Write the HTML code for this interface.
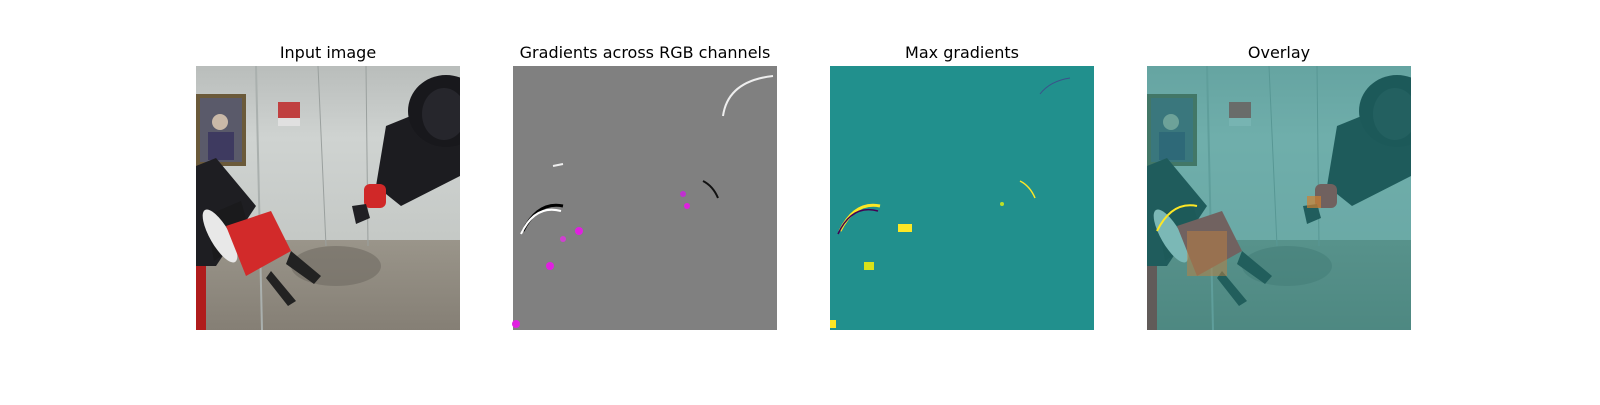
<!DOCTYPE html>
<html><head><meta charset="utf-8"><style>
body{margin:0;background:#fff;width:1600px;height:400px;overflow:hidden}
svg text{font-family:"DejaVu Sans","Liberation Sans",sans-serif;font-size:16px;fill:#000}
</style></head><body>
<svg width="1600" height="400" viewBox="0 0 1600 400">
<defs>
<linearGradient id="wall" x1="0" y1="0" x2="0" y2="1"><stop offset="0" stop-color="#b9bdbb"/><stop offset="0.4" stop-color="#cfd3d1"/><stop offset="1" stop-color="#c4c8c5"/></linearGradient>
<linearGradient id="floor" x1="0" y1="0" x2="0" y2="1"><stop offset="0" stop-color="#9a958a"/><stop offset="1" stop-color="#857f75"/></linearGradient>
<clipPath id="clip"><rect x="0" y="0" width="264" height="264"/></clipPath>
<g id="scene" clip-path="url(#clip)">
<rect x="0" y="0" width="264" height="180" fill="url(#wall)"/>
<rect x="0" y="174" width="264" height="90" fill="url(#floor)"/>
<rect x="0" y="28" width="50" height="72" fill="#6b5a3a"/>
<rect x="4" y="32" width="42" height="64" fill="#5a5a6a"/>
<rect x="12" y="66" width="26" height="28" fill="#3e3a60"/>
<circle cx="24" cy="56" r="8" fill="#cab9a8"/>
<rect x="82" y="36" width="22" height="16" fill="#c04040"/>
<rect x="82" y="52" width="22" height="8" fill="#e0e0e0"/>
<line x1="60" y1="0" x2="66" y2="264" stroke="#aab0ae" stroke-width="2"/>
<line x1="122" y1="0" x2="130" y2="180" stroke="#9aa09e" stroke-width="1"/>
<line x1="170" y1="0" x2="172" y2="180" stroke="#9aa09e" stroke-width="1"/>
<ellipse cx="140" cy="200" rx="45" ry="20" fill="#6f6b63" opacity="0.6"/>
<path d="M190 60 L264 30 L264 110 L205 140 L180 120 Z" fill="#1c1c20"/>
<ellipse cx="250" cy="45" rx="38" ry="36" fill="#18181c"/>
<ellipse cx="248" cy="48" rx="22" ry="26" fill="#26262c"/>
<rect x="168" y="118" width="22" height="24" rx="6" fill="#d02828"/>
<path d="M156 140 L170 138 L174 152 L160 158 Z" fill="#202024"/>
<path d="M0 100 L20 92 L60 140 L20 200 L0 200 Z" fill="#1e1e22"/>
<path d="M10 150 L45 135 L55 170 L18 195 Z" fill="#1a1a1c"/>
<ellipse cx="24" cy="170" rx="10" ry="30" fill="#e8e8e8" transform="rotate(-30 24 170)"/>
<path d="M30 160 L75 145 L95 185 L50 210 Z" fill="#d22a2a"/>
<path d="M95 185 L125 210 L118 218 L90 198 Z" fill="#222"/>
<path d="M75 205 L100 235 L92 240 L70 212 Z" fill="#222"/>
<rect x="0" y="200" width="10" height="64" fill="#b01c1c"/>
</g>
</defs>

<text x="328" y="58" text-anchor="middle">Input image</text>
<text x="645" y="58" text-anchor="middle">Gradients across RGB channels</text>
<text x="962" y="58" text-anchor="middle">Max gradients</text>
<text x="1279" y="58" text-anchor="middle">Overlay</text>

<g transform="translate(196,66)"><use href="#scene"/></g>

<g transform="translate(513,66)">
<rect width="264" height="264" fill="#808080"/>
<path d="M210 50 Q215 15 260 10" stroke="#eee" stroke-width="2" fill="none"/>
<path d="M10 165 Q25 135 50 140" stroke="#000" stroke-width="3" fill="none"/>
<path d="M8 168 Q22 138 48 145" stroke="#fff" stroke-width="2" fill="none"/>
<path d="M190 115 Q200 120 205 132" stroke="#111" stroke-width="2" fill="none"/>
<circle cx="66" cy="165" r="4" fill="#e020e0"/>
<circle cx="50" cy="173" r="3" fill="#d040d0"/>
<circle cx="37" cy="200" r="4" fill="#e020e0"/>
<circle cx="170" cy="128" r="3" fill="#c030d0"/>
<circle cx="174" cy="140" r="3" fill="#e020e0"/>
<circle cx="3" cy="258" r="4" fill="#e020e0"/>
<path d="M40 100 L50 98" stroke="#eee" stroke-width="2"/>
</g>

<g transform="translate(830,66)">
<rect width="264" height="264" fill="#21908d"/>
<path d="M10 165 Q25 135 50 140" stroke="#fde725" stroke-width="3" fill="none"/>
<path d="M8 168 Q22 138 48 145" stroke="#440154" stroke-width="1.5" fill="none"/>
<rect x="68" y="158" width="14" height="8" fill="#fde725"/>
<rect x="34" y="196" width="10" height="8" fill="#d8e219"/>
<circle cx="172" cy="138" r="2" fill="#bddf26"/>
<rect x="0" y="254" width="6" height="8" fill="#fde725"/>
<path d="M190 115 Q200 120 205 132" stroke="#fde725" stroke-width="1.5" fill="none"/>
<path d="M210 28 Q220 15 240 12" stroke="#3b528b" stroke-width="1" fill="none"/>
</g>

<g transform="translate(1147,66)">
<use href="#scene"/>
<rect width="264" height="264" fill="#21908d" opacity="0.55"/>
<path d="M10 165 Q25 135 50 140" stroke="#fde725" stroke-width="2" fill="none"/>
<rect x="40" y="165" width="40" height="45" fill="#c08040" opacity="0.5"/>
<rect x="160" y="130" width="14" height="12" fill="#d08030" opacity="0.7"/>
</g>
</svg>
</body></html>
